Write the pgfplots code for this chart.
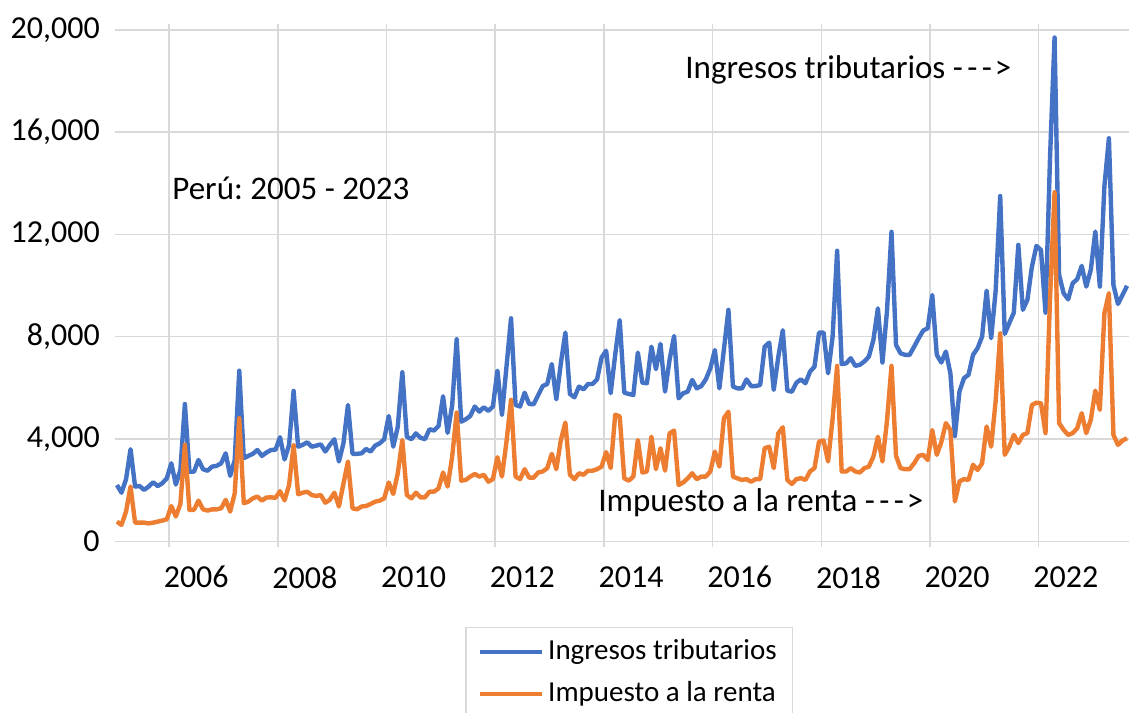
\documentclass[border=0pt]{standalone}
\usepackage{fontspec}
\setmainfont{Carlito}
\usepackage{pgfplots}
\usepackage{pgfplotstable}
\pgfplotsset{compat=1.18}
\frenchspacing

\definecolor{ingcol}{HTML}{4472C4}
\definecolor{impcol}{HTML}{ED7D31}
\definecolor{gridcol}{HTML}{D9D9D9}
\newcommand{\arrowtxt}{\mbox{-}\kern2.2pt\mbox{-}\kern2.2pt\mbox{-}\kern1.5pt>}

% m = month index (0 = 2005-01), ing = ingresos tributarios, imp = impuesto a la renta
\pgfplotstableread{
m ing imp
0 2200 770
1 1900 640
2 2420 1160
3 3600 2140
4 2140 730
5 2160 730
6 2010 730
7 2140 700
8 2310 730
9 2160 770
10 2270 810
11 2460 860
12 3050 1380
13 2220 970
14 2790 1460
15 5370 3770
16 2720 1230
17 2720 1230
18 3180 1590
19 2820 1250
20 2760 1200
21 2920 1250
22 2950 1250
23 3050 1290
24 3440 1620
25 2560 1160
26 3180 1880
27 6670 4810
28 3250 1490
29 3340 1550
30 3420 1680
31 3570 1750
32 3340 1590
33 3470 1710
34 3570 1720
35 3580 1700
36 4070 1960
37 3200 1600
38 3770 2200
39 5880 3770
40 3700 1840
41 3770 1900
42 3870 1940
43 3700 1810
44 3740 1770
45 3790 1810
46 3510 1510
47 3770 1620
48 3990 1900
49 3120 1360
50 3830 2250
51 5330 3120
52 3420 1290
53 3420 1250
54 3440 1360
55 3610 1380
56 3510 1460
57 3740 1550
58 3830 1590
59 3990 1680
60 4900 2300
61 3700 1850
62 4480 2660
63 6610 3960
64 4090 1810
65 3990 1680
66 4220 1900
67 4050 1720
68 3990 1720
69 4380 1940
70 4330 1940
71 4510 2070
72 5670 2690
73 4240 2140
74 5300 3300
75 7900 5030
76 4680 2370
77 4770 2400
78 4900 2530
79 5270 2630
80 5070 2530
81 5240 2600
82 5100 2330
83 5270 2430
84 6670 3290
85 4940 2530
86 6830 3900
87 8720 5530
88 5330 2530
89 5270 2430
90 5810 2820
91 5370 2490
92 5360 2490
93 5720 2690
94 6070 2730
95 6150 2860
96 6930 3420
97 5550 2820
98 6960 3960
99 8160 4640
100 5760 2600
101 5630 2430
102 6050 2660
103 5940 2600
104 6150 2760
105 6150 2760
106 6330 2820
107 7190 2920
108 7450 3490
109 5790 2860
110 7300 4950
111 8650 4880
112 5810 2460
113 5760 2370
114 5720 2530
115 7380 3960
116 6200 2690
117 6180 2730
118 7610 4090
119 6730 2820
120 7720 3640
121 5850 2760
122 7090 4220
123 8030 4330
124 5590 2200
125 5790 2300
126 5850 2460
127 6310 2660
128 5980 2430
129 6070 2530
130 6330 2530
131 6760 2730
132 7480 3510
133 5980 2920
134 7500 4810
135 9050 5070
136 6050 2530
137 5980 2460
138 5980 2400
139 6330 2430
140 6070 2330
141 6070 2430
142 6110 2430
143 7610 3640
144 7770 3700
145 5920 2860
146 7200 4220
147 8250 4460
148 5890 2400
149 5850 2240
150 6200 2430
151 6330 2470
152 6180 2400
153 6630 2730
154 6830 2860
155 8160 3900
156 8160 3940
157 6570 3120
158 8000 4800
159 11360 6860
160 6930 2730
161 6960 2730
162 7160 2860
163 6860 2730
164 6900 2690
165 7030 2860
166 7220 2920
167 7870 3310
168 9110 4090
169 6990 3120
170 9000 4700
171 12100 6860
172 7680 3340
173 7350 2860
174 7290 2820
175 7290 2820
176 7610 3050
177 7940 3340
178 8240 3380
179 8330 3180
180 9630 4350
181 7290 3380
182 6990 3880
183 7420 4620
184 6570 4360
185 4120 1560
186 5850 2340
187 6380 2430
188 6510 2400
189 7290 2990
190 7550 2790
191 8000 3050
192 9800 4490
193 7940 3700
194 9800 5500
195 13500 8130
196 8110 3380
197 8530 3700
198 8940 4160
199 11590 3840
200 9050 4160
201 9440 4230
202 10740 5330
203 11550 5420
204 11390 5400
205 8940 4230
206 15000 9500
207 19700 13650
208 10420 4620
209 9700 4360
210 9460 4160
211 10090 4230
212 10250 4420
213 10770 5010
214 9960 4230
215 10610 4750
216 12110 5890
217 9960 5140
218 13870 8920
219 15760 9700
220 10020 4160
221 9280 3770
222 9630 3940
223 9990 4030
}\datatable

\begin{document}
\begin{tikzpicture}
% page = 1137 x 713 px at 0.5pt per px, axis box lower left at origin
\path[use as bounding box] (-57.35pt,-85.85pt) rectangle (511.15pt,270.65pt);
\begin{axis}[
    scale only axis,
    width=507.3pt,
    height=255.75pt,
    xmin=-0.5, xmax=223.5,
    ymin=0, ymax=20000,
    scaled y ticks=false,
    axis line style={draw=none},
    xtick={17.5,41.5,...,209.5},
    xticklabels={2006,2008,2010,2012,2014,2016,2018,2020,2022},
    minor xtick={11.5,35.5,...,203.5},
    ytick={0,4000,...,20000},
    xminorgrids=true,
    xmajorgrids=false,
    ymajorgrids=true,
    grid style={gridcol, line width=0.75pt},
    minor grid style={gridcol, line width=0.75pt},
    major tick length=0pt,
    minor tick length=3pt,
    tick align=outside,
    minor tick style={gridcol, line width=0.75pt},
    tick label style={font=\fontsize{16}{19}\selectfont},
    xticklabel style={inner sep=0pt, anchor=north, yshift=-12.3pt},
    yticklabel style={inner sep=0pt, anchor=east, xshift=-7.3pt},
    /pgf/number format/.cd, 1000 sep={,}, assume math mode=true,
    /pgfplots/.cd,
    legend style={at={(0.3453,-0.1675)}, anchor=north west,
        draw=gridcol, line width=0.75pt,
        font=\fontsize{14.5}{17}\selectfont,
        inner xsep=6pt, inner ysep=3pt, row sep=3pt,
        nodes={inner sep=2pt, text height=11pt, text depth=3pt}},
    legend cell align=left,
    legend image code/.code={\draw[#1] (0pt,0pt) -- (31pt,0pt);},
    every axis plot/.append style={line width=2.2pt, line join=round},
]
\addplot[ingcol, mark=none] table[x=m, y=ing] {\datatable};
\addlegendentry{Ingresos tributarios}
\addplot[impcol, mark=none] table[x=m, y=imp] {\datatable};
\addlegendentry{Impuesto a la renta}
\end{axis}
\begin{scope}[every node/.style={inner sep=0pt, anchor=west, font=\fontsize{16.5}{19}\selectfont}]
\node at (285.15pt,235.65pt) {Ingresos tributarios \arrowtxt};
\node at (28.65pt,176.65pt) {Perú: 2005 - 2023};
\node at (241.65pt,19.15pt) {Impuesto a la renta \arrowtxt};
\end{scope}
\end{tikzpicture}
\end{document}
